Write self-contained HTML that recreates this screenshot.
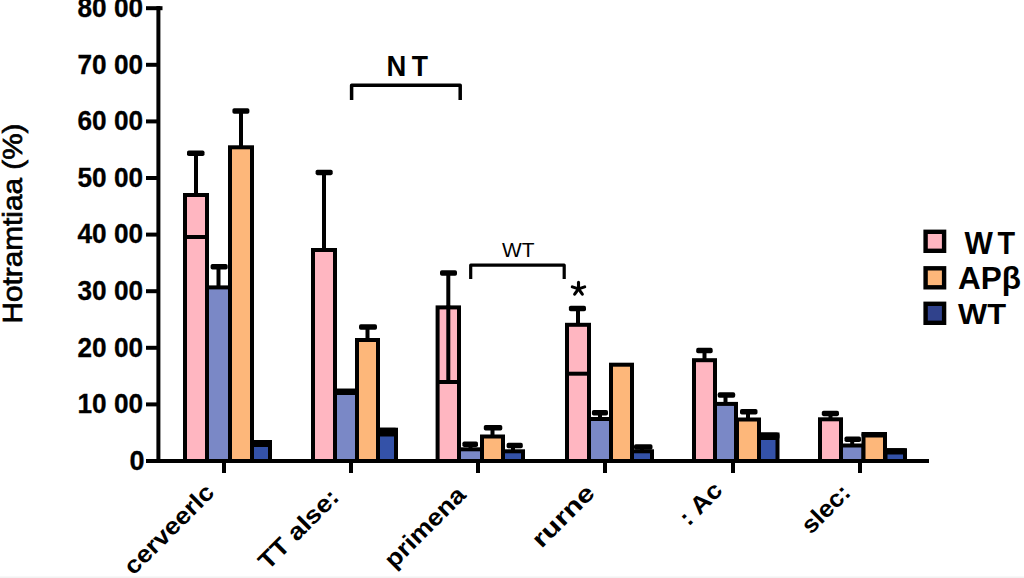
<!DOCTYPE html>
<html><head><meta charset="utf-8"><style>
html,body{margin:0;padding:0;background:#fff;}
svg{display:block;}
text{font-family:"Liberation Sans",sans-serif;font-weight:bold;fill:#000;}
.yl{font-size:27px;stroke:#000;stroke-width:0.3px;}
.nt{font-size:28.5px;}
.wt{font-size:19.6px;font-weight:normal;}
.ast{font-size:26px;font-weight:normal;}
.lg{font-size:28px;}
.xl{font-size:24px;}
.yt{font-size:28px;font-weight:normal;stroke:#000;stroke-width:0.7px;}
</style></head><body>
<svg width="1024" height="578" viewBox="0 0 1024 578">
<rect width="1024" height="578" fill="#fff"/>
<rect x="0" y="576.5" width="1024" height="1.5" fill="#f2f2f2"/>
<line x1="158.4" y1="6" x2="158.4" y2="463" stroke="#000" stroke-width="4"/>
<line x1="156.4" y1="461" x2="929" y2="461" stroke="#000" stroke-width="4"/>
<line x1="146" y1="461.0" x2="160" y2="461.0" stroke="#000" stroke-width="4"/>
<text x="144.5" y="469.8" class="yl" text-anchor="end">0</text>
<line x1="146" y1="404.4" x2="160" y2="404.4" stroke="#000" stroke-width="4"/>
<text x="143" y="413.2" class="yl" text-anchor="end" textLength="65.5" lengthAdjust="spacingAndGlyphs">10 00</text>
<line x1="146" y1="347.8" x2="160" y2="347.8" stroke="#000" stroke-width="4"/>
<text x="143" y="356.6" class="yl" text-anchor="end" textLength="65.5" lengthAdjust="spacingAndGlyphs">20 00</text>
<line x1="146" y1="291.2" x2="160" y2="291.2" stroke="#000" stroke-width="4"/>
<text x="143" y="300.0" class="yl" text-anchor="end" textLength="65.5" lengthAdjust="spacingAndGlyphs">30 00</text>
<line x1="146" y1="234.6" x2="160" y2="234.6" stroke="#000" stroke-width="4"/>
<text x="143" y="243.4" class="yl" text-anchor="end" textLength="65.5" lengthAdjust="spacingAndGlyphs">40 00</text>
<line x1="146" y1="178.0" x2="160" y2="178.0" stroke="#000" stroke-width="4"/>
<text x="143" y="186.8" class="yl" text-anchor="end" textLength="65.5" lengthAdjust="spacingAndGlyphs">50 00</text>
<line x1="146" y1="121.4" x2="160" y2="121.4" stroke="#000" stroke-width="4"/>
<text x="143" y="130.2" class="yl" text-anchor="end" textLength="65.5" lengthAdjust="spacingAndGlyphs">60 00</text>
<line x1="146" y1="64.8" x2="160" y2="64.8" stroke="#000" stroke-width="4"/>
<text x="143" y="73.6" class="yl" text-anchor="end" textLength="65.5" lengthAdjust="spacingAndGlyphs">70 00</text>
<line x1="146" y1="8.2" x2="162.5" y2="8.2" stroke="#000" stroke-width="4"/>
<text x="143" y="17.0" class="yl" text-anchor="end" textLength="65.5" lengthAdjust="spacingAndGlyphs">80 00</text>
<line x1="224" y1="459" x2="224" y2="473" stroke="#000" stroke-width="4"/>
<line x1="196.0" y1="153.3" x2="196.0" y2="195.0" stroke="#000" stroke-width="4"/>
<rect x="185.0" y="195.0" width="22.0" height="266.0" fill="#FFB6C1" stroke="#000" stroke-width="4"/>
<rect x="187.0" y="150.55" width="17.5" height="5.5" fill="#000" rx="1.8"/>
<line x1="218.5" y1="266.7" x2="218.5" y2="287.4" stroke="#000" stroke-width="4"/>
<rect x="207.0" y="287.4" width="23.0" height="173.6" fill="#7A88C6" stroke="#000" stroke-width="4"/>
<rect x="210.6" y="263.95" width="17.1" height="5.5" fill="#000" rx="1.8"/>
<line x1="241.0" y1="111.0" x2="241.0" y2="147.3" stroke="#000" stroke-width="4"/>
<rect x="230.0" y="147.3" width="22.0" height="313.7" fill="#FDB77A" stroke="#000" stroke-width="4"/>
<rect x="232.4" y="108.25" width="17.0" height="5.5" fill="#000" rx="1.8"/>
<rect x="252.0" y="442.0" width="18.0" height="19.0" fill="#3452A8" stroke="#000" stroke-width="4"/>
<rect x="250.0" y="440.0" width="22.0" height="7.0" fill="#000" rx="3"/>
<line x1="185" y1="237" x2="207" y2="237" stroke="#000" stroke-width="4"/>
<line x1="351" y1="459" x2="351" y2="473" stroke="#000" stroke-width="4"/>
<line x1="324.0" y1="172.4" x2="324.0" y2="250.0" stroke="#000" stroke-width="4"/>
<rect x="313.0" y="250.0" width="22.0" height="211.0" fill="#FFB6C1" stroke="#000" stroke-width="4"/>
<rect x="315.6" y="169.65" width="17.1" height="5.5" fill="#000" rx="1.8"/>
<rect x="335.0" y="390.7" width="22.0" height="70.3" fill="#7A88C6" stroke="#000" stroke-width="4"/>
<rect x="333.0" y="388.7" width="26.0" height="6.3" fill="#000" rx="3"/>
<line x1="367.5" y1="327.1" x2="367.5" y2="340.0" stroke="#000" stroke-width="4"/>
<rect x="357.0" y="340.0" width="21.0" height="121.0" fill="#FDB77A" stroke="#000" stroke-width="4"/>
<rect x="359.0" y="324.35" width="18.0" height="5.5" fill="#000" rx="1.8"/>
<rect x="378.0" y="429.7" width="18.0" height="31.3" fill="#3452A8" stroke="#000" stroke-width="4"/>
<rect x="376.0" y="427.7" width="22.0" height="8.9" fill="#000" rx="3"/>
<line x1="478" y1="459" x2="478" y2="473" stroke="#000" stroke-width="4"/>
<line x1="448.3" y1="273.0" x2="448.3" y2="307.4" stroke="#000" stroke-width="4"/>
<rect x="437.6" y="307.4" width="21.4" height="153.6" fill="#FFB6C1" stroke="#000" stroke-width="4"/>
<rect x="440.0" y="270.25" width="17.0" height="5.5" fill="#000" rx="1.8"/>
<line x1="470.5" y1="444.2" x2="470.5" y2="449.3" stroke="#000" stroke-width="4"/>
<rect x="459.0" y="449.3" width="23.0" height="11.7" fill="#7A88C6" stroke="#000" stroke-width="4"/>
<rect x="462.4" y="441.45" width="15.6" height="5.5" fill="#000" rx="1.8"/>
<line x1="492.5" y1="427.8" x2="492.5" y2="436.5" stroke="#000" stroke-width="4"/>
<rect x="482.0" y="436.5" width="21.0" height="24.5" fill="#FDB77A" stroke="#000" stroke-width="4"/>
<rect x="483.8" y="425.05" width="18.5" height="5.5" fill="#000" rx="1.8"/>
<line x1="513.0" y1="445.6" x2="513.0" y2="451.3" stroke="#000" stroke-width="4"/>
<rect x="503.0" y="451.3" width="20.0" height="9.7" fill="#3452A8" stroke="#000" stroke-width="4"/>
<rect x="506.6" y="442.85" width="16.2" height="5.5" fill="#000" rx="1.8"/>
<line x1="437.6" y1="382" x2="459" y2="382" stroke="#000" stroke-width="4"/>
<line x1="448.3" y1="305.4" x2="448.3" y2="382" stroke="#000" stroke-width="4"/>
<line x1="605" y1="459" x2="605" y2="473" stroke="#000" stroke-width="4"/>
<line x1="578.0" y1="308.5" x2="578.0" y2="324.8" stroke="#000" stroke-width="4"/>
<rect x="567.0" y="324.8" width="22.0" height="136.2" fill="#FFB6C1" stroke="#000" stroke-width="4"/>
<rect x="568.9" y="305.75" width="17.1" height="5.5" fill="#000" rx="1.8"/>
<line x1="600.0" y1="412.7" x2="600.0" y2="419.0" stroke="#000" stroke-width="4"/>
<rect x="589.0" y="419.0" width="22.0" height="42.0" fill="#7A88C6" stroke="#000" stroke-width="4"/>
<rect x="591.9" y="409.95" width="16.1" height="5.5" fill="#000" rx="1.8"/>
<rect x="611.0" y="364.7" width="21.0" height="96.3" fill="#FDB77A" stroke="#000" stroke-width="4"/>
<line x1="642.0" y1="447.0" x2="642.0" y2="451.3" stroke="#000" stroke-width="4"/>
<rect x="632.0" y="451.3" width="20.0" height="9.7" fill="#3452A8" stroke="#000" stroke-width="4"/>
<rect x="634.0" y="444.25" width="18.5" height="5.5" fill="#000" rx="1.8"/>
<line x1="567" y1="373.7" x2="589" y2="373.7" stroke="#000" stroke-width="4"/>
<line x1="733" y1="459" x2="733" y2="473" stroke="#000" stroke-width="4"/>
<line x1="704.5" y1="350.6" x2="704.5" y2="360.2" stroke="#000" stroke-width="4"/>
<rect x="694.0" y="360.2" width="21.0" height="100.8" fill="#FFB6C1" stroke="#000" stroke-width="4"/>
<rect x="696.2" y="347.85" width="16.5" height="5.5" fill="#000" rx="1.8"/>
<line x1="725.5" y1="395.1" x2="725.5" y2="403.9" stroke="#000" stroke-width="4"/>
<rect x="715.0" y="403.9" width="21.0" height="57.1" fill="#7A88C6" stroke="#000" stroke-width="4"/>
<rect x="717.7" y="392.35" width="17.5" height="5.5" fill="#000" rx="1.8"/>
<line x1="748.0" y1="411.8" x2="748.0" y2="419.5" stroke="#000" stroke-width="4"/>
<rect x="737.0" y="419.5" width="22.0" height="41.5" fill="#FDB77A" stroke="#000" stroke-width="4"/>
<rect x="740.0" y="409.05" width="17.5" height="5.5" fill="#000" rx="1.8"/>
<rect x="759.0" y="434.5" width="18.5" height="26.5" fill="#3452A8" stroke="#000" stroke-width="4"/>
<rect x="757.0" y="432.5" width="22.5" height="7.5" fill="#000" rx="3"/>
<line x1="860" y1="459" x2="860" y2="473" stroke="#000" stroke-width="4"/>
<line x1="830.5" y1="413.4" x2="830.5" y2="419.3" stroke="#000" stroke-width="4"/>
<rect x="820.0" y="419.3" width="21.0" height="41.7" fill="#FFB6C1" stroke="#000" stroke-width="4"/>
<rect x="821.8" y="410.65" width="17.2" height="5.5" fill="#000" rx="1.8"/>
<line x1="852.2" y1="439.3" x2="852.2" y2="445.5" stroke="#000" stroke-width="4"/>
<rect x="841.0" y="445.5" width="22.5" height="15.5" fill="#7A88C6" stroke="#000" stroke-width="4"/>
<rect x="844.5" y="436.55" width="16.5" height="5.5" fill="#000" rx="1.8"/>
<rect x="863.5" y="434.0" width="21.5" height="27.0" fill="#FDB77A" stroke="#000" stroke-width="4"/>
<rect x="861.5" y="432.0" width="25.5" height="5.5" fill="#000" rx="3"/>
<rect x="885.5" y="450.2" width="19.5" height="10.8" fill="#3452A8" stroke="#000" stroke-width="4"/>
<rect x="883.5" y="448.2" width="23.5" height="6.3" fill="#000" rx="3"/>
<path d="M351.6,100 V85.2 H460.2 V100" fill="none" stroke="#000" stroke-width="3.5" stroke-linejoin="round"/>
<text transform="translate(386.6,76.2) scale(0.93,1)" style="font-size:29.5px">N</text>
<text transform="translate(411.8,76.2) scale(0.9,1)" style="font-size:29.5px">T</text>
<path d="M470.7,279 V265.2 H564.2 V279" fill="none" stroke="#000" stroke-width="3.2" stroke-linejoin="round"/>
<text x="502" y="256.6" class="wt" textLength="32.5" lengthAdjust="spacingAndGlyphs">WT</text>
<line x1="578.5" y1="288.9" x2="578.50" y2="282.40" stroke="#000" stroke-width="3.1" stroke-linecap="round"/>
<line x1="578.5" y1="288.9" x2="584.68" y2="286.89" stroke="#000" stroke-width="3.1" stroke-linecap="round"/>
<line x1="578.5" y1="288.9" x2="572.32" y2="286.89" stroke="#000" stroke-width="3.1" stroke-linecap="round"/>
<line x1="578.5" y1="288.9" x2="574.68" y2="294.16" stroke="#000" stroke-width="3.1" stroke-linecap="round"/>
<line x1="578.5" y1="288.9" x2="582.32" y2="294.16" stroke="#000" stroke-width="3.1" stroke-linecap="round"/>
<rect x="925.6" y="231.8" width="18.5" height="19" fill="#FFB6C1" stroke="#000" stroke-width="4.4"/>
<rect x="925.6" y="268.3" width="18.5" height="19" fill="#FDB77A" stroke="#000" stroke-width="4.4"/>
<rect x="925.6" y="303.8" width="18.5" height="19" fill="#30428C" stroke="#000" stroke-width="4.4"/>
<text transform="translate(964.5,253.5) scale(0.94,1)" style="font-size:32px;">W</text>
<text transform="translate(997.5,253.5) scale(0.9,1)" style="font-size:32px;">T</text>
<text x="958" y="289.3" style="font-size:31px" textLength="63" lengthAdjust="spacingAndGlyphs">APβ</text>
<text x="958" y="324.2" style="font-size:30px" textLength="48" lengthAdjust="spacingAndGlyphs">WT</text>
<text transform="translate(133.6,576) rotate(-45)" class="xl" x="0" y="0" textLength="116" lengthAdjust="spacingAndGlyphs">cerveerlc</text>
<text transform="translate(268,571) rotate(-45)" class="xl" x="0" y="0" textLength="102.5" lengthAdjust="spacingAndGlyphs">TT alse:</text>
<text transform="translate(394,569.4) rotate(-45)" class="xl" x="0" y="0" textLength="103.5" lengthAdjust="spacingAndGlyphs">primena</text>
<text transform="translate(541.5,549) rotate(-45)" class="xl" x="0" y="0" textLength="77.4" lengthAdjust="spacingAndGlyphs">rurne</text>
<text transform="translate(688.5,527) rotate(-45)" class="xl" x="0" y="0" textLength="50" lengthAdjust="spacingAndGlyphs">: Ac</text>
<text transform="translate(811,535) rotate(-45)" class="xl" x="0" y="0" textLength="58" lengthAdjust="spacingAndGlyphs">slec:</text>
<text transform="translate(22,223.5) rotate(-90)" class="yt" text-anchor="middle" textLength="200" lengthAdjust="spacingAndGlyphs">Hotramtiaa (%)</text>
</svg>
</body></html>
